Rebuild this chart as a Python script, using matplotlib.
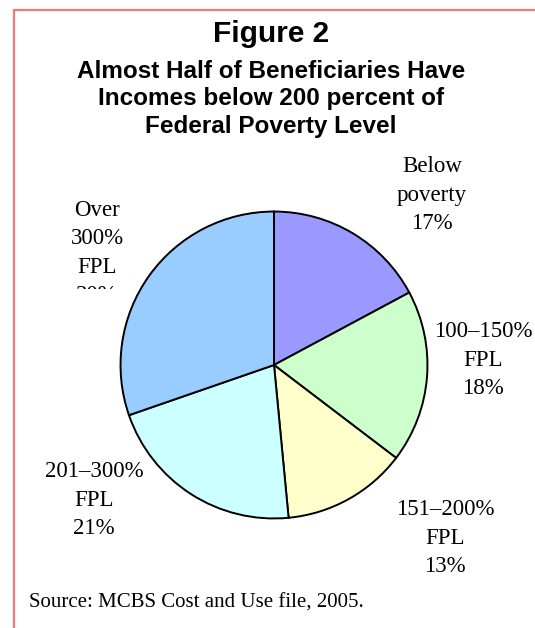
import matplotlib.pyplot as plt
from matplotlib.patches import Rectangle

categories = ["Below poverty", "100\u2013150% FPL", "151\u2013200% FPL", "201\u2013300% FPL", "Over 300% FPL"]
shares = [17, 18, 13, 21, 30]
colors = ["#9999FF", "#CCFFCC", "#FFFFCC", "#CCFFFF", "#99CCFF"]
labels = ["Below\npoverty\n17%", "100\u2013150%\nFPL\n18%", "151\u2013200%\nFPL\n13%",
          "201\u2013300%\nFPL\n21%", "Over\n300%\nFPL\n30%"]

W, H = 535, 628
fig = plt.figure(figsize=(W / 100, H / 100), dpi=100)

def fx(x):
    return x / W

def fy(y):
    return 1 - y / H

# red frame (only left and top visible)
fig.add_artist(Rectangle((fx(14), fy(700)), fx(600), fy(10) - fy(700), transform=fig.transFigure,
                         fill=False, edgecolor="#F07878", linewidth=1.6))

fig.text(fx(271), fy(34), "Figure 2", ha="center", va="center", fontsize=21.5,
         fontweight="bold", family="Liberation Sans")
fig.text(fx(271), fy(99), "Almost Half of Beneficiaries Have\nIncomes below 200 percent of\nFederal Poverty Level",
         ha="center", va="center", fontsize=17.5, fontweight="bold", family="Liberation Sans",
         linespacing=1.27)

ax = fig.add_axes([fx(119), fy(520), fx(310), 310 / H])
ax.pie(shares, colors=colors, startangle=90, counterclock=False,
       wedgeprops=dict(edgecolor="black", linewidth=1.4))
ax.set_xlim(-1.01, 1.01)
ax.set_ylim(-1.01, 1.01)
ax.set_aspect("equal")
ax.axis("off")

serif = dict(ha="center", va="center", fontsize=16.5, family="Liberation Serif", linespacing=1.45)
pos = [(432, 195), (483, 360), (445, 538), (94, 500), (97, 253)]
for lab, (x, y) in zip(labels, pos):
    t = fig.text(fx(x), fy(y), lab, **serif)
    if lab.startswith("Over"):
        clip = Rectangle((0, fy(289)), 1, 1 - fy(289), transform=fig.transFigure)
        t.set_clip_path(clip)

fig.text(fx(29), fy(603), "Source: MCBS Cost and Use file, 2005.", ha="left", va="center",
         fontsize=15, family="Liberation Serif")

fig.savefig("out.png", dpi=100)
